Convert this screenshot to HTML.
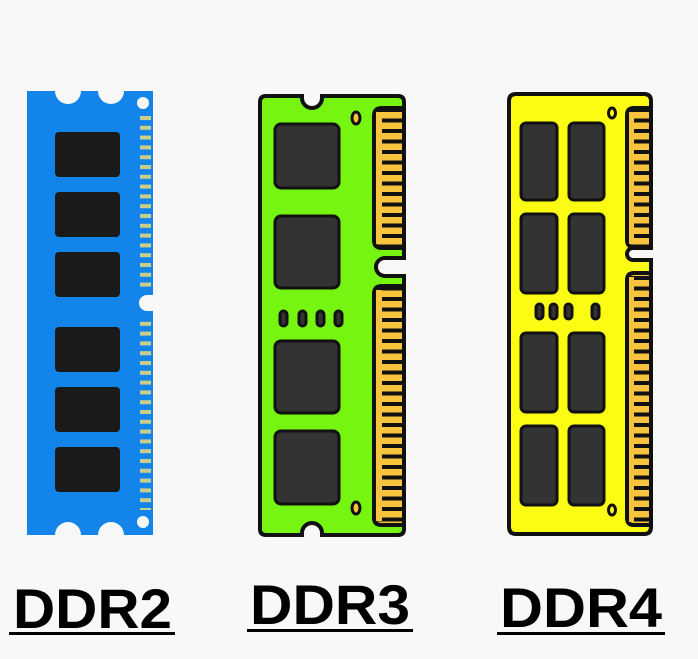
<!DOCTYPE html>
<html><head><meta charset="utf-8"><style>html,body{margin:0;padding:0;background:#f8f8f8}svg{display:block}</style></head>
<body>
<svg width="698" height="659" viewBox="0 0 698 659" xmlns="http://www.w3.org/2000/svg">
<defs>
<pattern id="bp" x="0" y="116" width="12" height="9.8" patternUnits="userSpaceOnUse"><rect x="0" y="0" width="12" height="4" fill="#c9cf8a"/></pattern>
<pattern id="gp" x="0" y="112" width="40" height="10.5" patternUnits="userSpaceOnUse"><rect width="40" height="10.5" fill="#f8c43e"/><rect x="0" y="6.5" width="40" height="4" fill="#111"/></pattern>
</defs>
<rect width="698" height="659" fill="#f8f8f8"/>
<!-- DDR2 -->
<rect x="27" y="91" width="126" height="444" fill="#1385ea"/>
<circle cx="68" cy="91" r="13" fill="#f8f8f8"/><circle cx="111" cy="91" r="13" fill="#f8f8f8"/>
<circle cx="68" cy="535" r="13" fill="#f8f8f8"/><circle cx="111" cy="535" r="13" fill="#f8f8f8"/>
<circle cx="143" cy="103" r="6" fill="#f8f8f8"/><circle cx="143" cy="522" r="6" fill="#f8f8f8"/>
<rect x="140" y="116" width="11" height="175" fill="url(#bp)"/>
<rect x="140" y="316" width="11" height="194" fill="url(#bp)"/>
<rect x="139" y="295" width="22" height="16" rx="8" fill="#f8f8f8"/>
<g fill="#1a1a1a">
<rect x="55" y="132" width="65" height="45" rx="4"/><rect x="55" y="192" width="65" height="45" rx="4"/><rect x="55" y="252" width="65" height="45" rx="4"/>
<rect x="55" y="327" width="65" height="45" rx="4"/><rect x="55" y="387" width="65" height="45" rx="4"/><rect x="55" y="447" width="65" height="45" rx="4"/>
</g>
<!-- DDR3 -->
<path d="M266 96 H302 V98 A10 10 0 0 0 322 98 V96 H398 Q404 96 404 102 V258 H385 A9 9 0 0 0 385 276 H404 V529 Q404 535 398 535 H322 V533 A10 10 0 0 0 302 533 V535 H266 Q260 535 260 529 V102 Q260 96 266 96 Z" fill="#76f511" stroke="#111" stroke-width="4"/>
<path d="M404 108 H382 Q374 108 374 116 V240 Q374 248 382 248 H404 Z" fill="url(#gp)" stroke="#111" stroke-width="4"/>
<path d="M404 286 H382 Q374 286 374 294 V518 Q374 525 382 525 H404 Z" fill="url(#gp)" stroke="#111" stroke-width="4"/>
<rect x="376" y="112" width="6" height="132" fill="#f8c43e"/>
<rect x="376" y="290" width="6" height="231" fill="#f8c43e"/>
<ellipse cx="356" cy="118" rx="4" ry="6" fill="#f8c43e" stroke="#111" stroke-width="3"/>
<ellipse cx="356" cy="508" rx="4" ry="6" fill="#f8c43e" stroke="#111" stroke-width="3"/>
<g fill="#333" stroke="#111" stroke-width="3">
<rect x="275" y="124" width="64" height="64" rx="6"/><rect x="275" y="216" width="64" height="72" rx="6"/>
<rect x="275" y="341" width="64" height="72" rx="6"/><rect x="275" y="431" width="64" height="73" rx="6"/>
<rect x="280" y="311" width="7" height="15" rx="3.5"/><rect x="299" y="311" width="7" height="15" rx="3.5"/><rect x="317" y="311" width="7" height="15" rx="3.5"/><rect x="335" y="311" width="7" height="15" rx="3.5"/>
</g>
<!-- DDR4 -->
<path d="M516 94 H644 Q651 94 651 101 V248 H633 A6 6 0 0 0 633 260 H651 V527 Q651 534 644 534 H516 Q509 534 509 527 V101 Q509 94 516 94 Z" fill="#fbfb13" stroke="#111" stroke-width="4"/>
<path d="M651 108 H634 Q627 108 627 115 V240 Q627 247 634 247 H651 Z" fill="url(#gp)" stroke="#111" stroke-width="4"/>
<path d="M651 273 H634 Q627 273 627 280 V518 Q627 525 634 525 H651 Z" fill="url(#gp)" stroke="#111" stroke-width="4"/>
<rect x="629" y="112" width="5" height="132" fill="#f8c43e"/>
<rect x="629" y="277" width="5" height="245" fill="#f8c43e"/>
<ellipse cx="612" cy="113" rx="3.5" ry="5" fill="#fbfb13" stroke="#111" stroke-width="3"/>
<ellipse cx="612" cy="510" rx="3.5" ry="5" fill="#fbfb13" stroke="#111" stroke-width="3"/>
<g fill="#333" stroke="#111" stroke-width="3">
<rect x="521" y="123" width="36" height="77" rx="5"/><rect x="569" y="123" width="35" height="77" rx="5"/>
<rect x="521" y="214" width="36" height="79" rx="5"/><rect x="569" y="214" width="35" height="79" rx="5"/>
<rect x="521" y="333" width="36" height="79" rx="5"/><rect x="569" y="333" width="35" height="79" rx="5"/>
<rect x="521" y="426" width="36" height="79" rx="5"/><rect x="569" y="426" width="35" height="79" rx="5"/>
<rect x="536" y="304" width="7" height="15" rx="3.5"/><rect x="550" y="304" width="7" height="15" rx="3.5"/><rect x="565" y="304" width="7" height="15" rx="3.5"/><rect x="592" y="304" width="7" height="15" rx="3.5"/>
</g>
<!-- labels -->
<g font-family="Liberation Sans, sans-serif" font-weight="bold" font-size="56" fill="#000">
<text x="13" y="628" textLength="159" lengthAdjust="spacingAndGlyphs">DDR2</text>
<text x="250" y="624" textLength="160" lengthAdjust="spacingAndGlyphs">DDR3</text>
<text x="500" y="627" textLength="162" lengthAdjust="spacingAndGlyphs">DDR4</text>
</g>
<rect x="9" y="632" width="166" height="3" fill="#000"/>
<rect x="247" y="629" width="166" height="3" fill="#000"/>
<rect x="497" y="632" width="168" height="3" fill="#000"/>
</svg>
</body></html>
